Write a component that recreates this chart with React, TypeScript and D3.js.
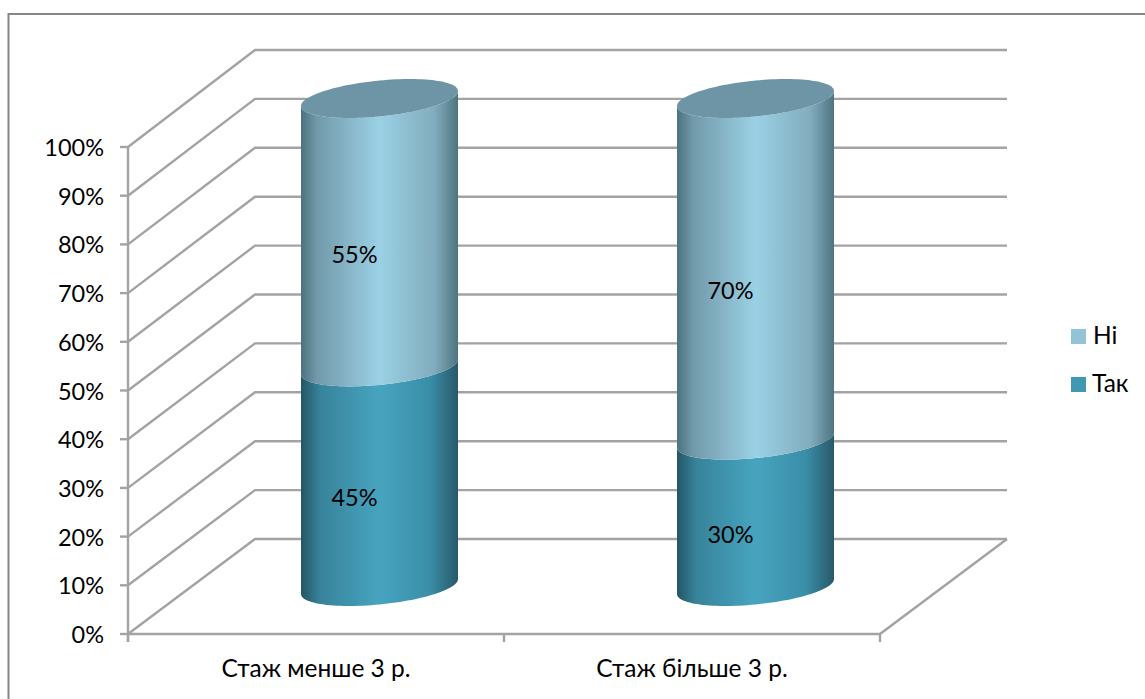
import React, { useMemo } from "react";
import * as d3 from "d3";

// Share of respondents by length of service
const categories = ["Стаж менше 3 р.", "Стаж більше 3 р."];
const yesValues = [45, 30];
const noValues = [55, 70];
const yesLabel = "Так";
const noLabel = "Ні";
const percentTicks = [0, 10, 20, 30, 40, 50, 60, 70, 80, 90, 100];

const WIDTH = 1145;
const HEIGHT = 699;
const FONT = "Lato, 'Open Sans', sans-serif";

// Oblique projection: the back wall is shifted right and up from the front plane
const DEPTH_X = 127;
const RADIUS = 78.5;
const ELLIPSE_MINOR = 18;
const ELLIPSE_TILT = 7.5;

const GRID = "#a3a3a3";

type Ring = { cx: number; cy: number };

// Point on the tilted ellipse that forms a cylinder's rim
function rim({ cx, cy }: Ring, t: number): [number, number] {
  return [
    cx + RADIUS * Math.cos(t),
    cy + ELLIPSE_MINOR * Math.sin(t) - ELLIPSE_TILT * Math.cos(t),
  ];
}

function ringPath(ring: Ring): string {
  const pts = d3.range(0, 2 * Math.PI, Math.PI / 60).map((t) => rim(ring, t));
  return (d3.line()(pts) ?? "") + "Z";
}

// Body between two rims: the lower rim's front half, then the upper rim's front half reversed
function bodyPath(top: Ring, bottom: Ring): string {
  const ts = d3.range(0, Math.PI + 0.001, Math.PI / 60);
  const lower = ts.map((t) => rim(bottom, t));
  const upper = ts.slice().reverse().map((t) => rim(top, t));
  return (d3.line()([...lower, ...upper]) ?? "") + "Z";
}

export default function App() {
  const y = useMemo(() => d3.scaleLinear().domain([0, 100]).range([634, 147]), []);
  const yBack = useMemo(() => d3.scaleLinear().domain([0, 100]).range([539, 50]), []);
  const x = useMemo(
    () => d3.scaleBand<string>().domain(categories).range([128, 880]),
    []
  );
  const pct = (v: number) => `${v}%`;
  const textStyle = { fontFamily: FONT, fontSize: 23.5, fill: "#000" } as const;
  const wideText = { fontFamily: FONT, fontSize: 24.5, fill: "#000" } as const;
  const lineStyle = { stroke: GRID, strokeWidth: 2.4, fill: "none" } as const;

  return (
    <svg
      width={WIDTH}
      height={HEIGHT}
      viewBox={`0 0 ${WIDTH} ${HEIGHT}`}
      style={{ position: "absolute", left: 0, top: 0, background: "#fff" }}
    >
      <defs>
        <linearGradient id="noBody" x1="0" x2="1" y1="0" y2="0">
          <stop offset="0" stopColor="#4c727f" />
          <stop offset="0.1" stopColor="#7199a9" />
          <stop offset="0.5" stopColor="#9bd1e5" />
          <stop offset="0.85" stopColor="#81acbd" />
          <stop offset="1" stopColor="#4f7380" />
        </linearGradient>
        <linearGradient id="yesBody" x1="0" x2="1" y1="0" y2="0">
          <stop offset="0" stopColor="#245565" />
          <stop offset="0.12" stopColor="#37839a" />
          <stop offset="0.5" stopColor="#47a4bf" />
          <stop offset="0.82" stopColor="#3a8ea8" />
          <stop offset="1" stopColor="#28596a" />
        </linearGradient>
      </defs>

      {/* Outer chart frame */}
      <rect x={8.5} y={14} width={1160} height={720} fill="none" stroke="#868686" strokeWidth={2} />

      {/* Gridlines: side wall diagonal plus back wall horizontal */}
      {percentTicks.map((t) => (
        <polyline
          key={t}
          points={`128,${y(t)} ${128 + DEPTH_X},${yBack(t)} 1007,${yBack(t)}`}
          {...lineStyle}
        />
      ))}
      {/* Floor's right edge */}
      <line x1={880} y1={y(0)} x2={880 + DEPTH_X} y2={yBack(0)} {...lineStyle} />

      {/* Axes */}
      <line x1={128} x2={128} y1={y(100)} y2={y(0) + 8} {...lineStyle} />
      <line x1={128} x2={880} y1={y(0)} y2={y(0)} {...lineStyle} />
      {percentTicks.map((t) => (
        <line key={t} x1={120} x2={128} y1={y(t)} y2={y(t)} {...lineStyle} />
      ))}
      {[...categories.map((c) => x(c) as number), 880].map((px) => (
        <line key={px} x1={px} x2={px} y1={y(0)} y2={y(0) + 8} {...lineStyle} />
      ))}

      {percentTicks.map((t) => (
        <text key={t} x={104} y={y(t) + 9} textAnchor="end" {...textStyle}>
          {pct(t)}
        </text>
      ))}

      {/* Stacked cylinders */}
      {categories.map((c, i) => {
        const cx = (x(c) as number) + x.bandwidth() / 2 + DEPTH_X / 2;
        const ringAt = (v: number): Ring => ({ cx, cy: (y(v) + yBack(v)) / 2 });
        const base = ringAt(0);
        const mid = ringAt(yesValues[i]);
        const top = ringAt(yesValues[i] + noValues[i]);
        const labelX = cx - 25;
        return (
          <g key={c}>
            <path d={bodyPath(mid, base)} fill="url(#yesBody)" />
            <path d={bodyPath(top, mid)} fill="url(#noBody)" />
            <path d={ringPath(top)} fill="#6d95a5" />
            <text x={labelX} y={y(yesValues[i] / 2) - 18} textAnchor="middle" {...textStyle}>
              {pct(yesValues[i])}
            </text>
            <text x={labelX} y={y(yesValues[i] + noValues[i] / 2) - 18} textAnchor="middle" {...textStyle}>
              {pct(noValues[i])}
            </text>
            <text x={(x(c) as number) + x.bandwidth() / 2} y={677} textAnchor="middle" {...wideText}>
              {c}
            </text>
          </g>
        );
      })}

      {/* Legend */}
      <rect x={1071} y={329} width={15} height={15} fill="#93c3d6" />
      <text x={1093} y={344} {...wideText}>{noLabel}</text>
      <rect x={1071} y={377} width={15} height={15} fill="#4198b2" />
      <text x={1092} y={392} {...wideText}>{yesLabel}</text>
    </svg>
  );
}
